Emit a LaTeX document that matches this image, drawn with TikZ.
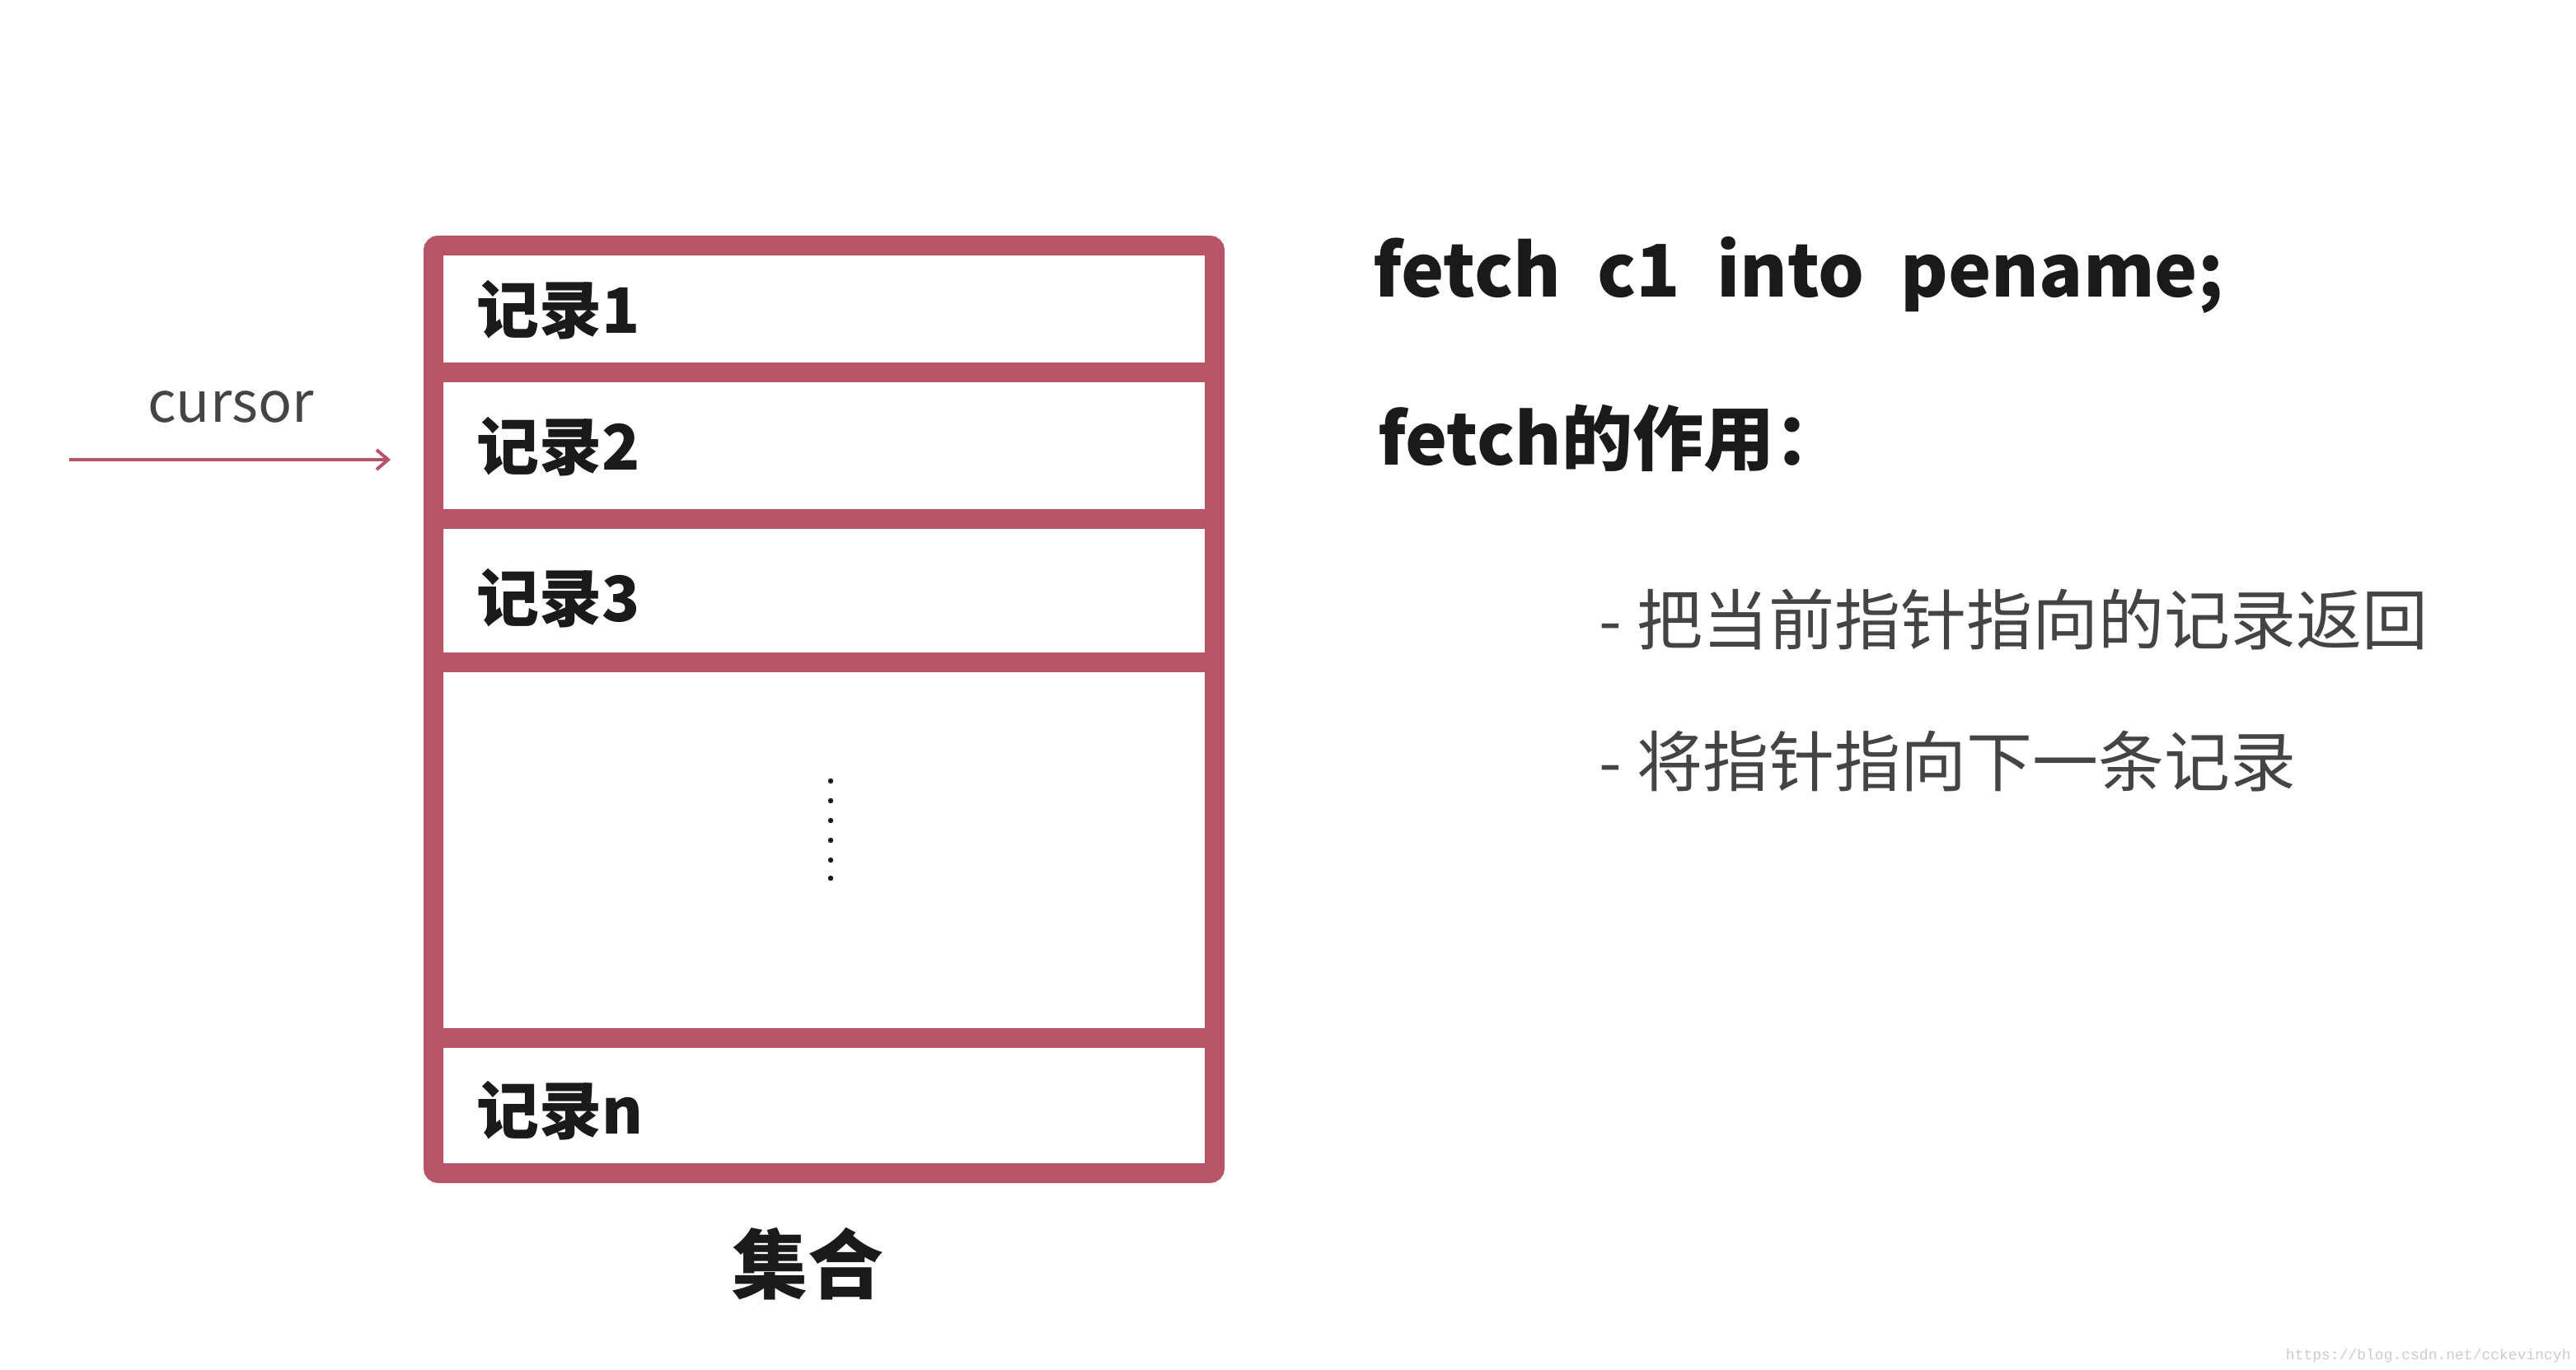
\documentclass[tikz,border=0pt]{standalone}
\usepackage{fontspec}
\usetikzlibrary{arrows.meta}
\setmainfont{Noto Sans CJK SC}
\newfontfamily\wmfont{Liberation Mono}
\definecolor{boxred}{HTML}{B85468}
\definecolor{txt}{HTML}{1A1A1A}
\definecolor{gtxt}{HTML}{444444}
\begin{document}
\begin{tikzpicture}[x=1pt,y=-1pt,
  rec/.style={anchor=west,text=txt,font=\bfseries\fontsize{38}{42}\selectfont,inner sep=0pt},
  rt/.style={anchor=west,inner sep=0pt}]
\useasboundingbox (0,0) rectangle (1563,831);
\fill[white] (0,0) rectangle (1563,831);
\draw[boxred,line width=12pt,rounded corners=3pt] (263,149) rectangle (737,712);
\foreach \y in {226,315,402,630} \draw[boxred,line width=12pt] (263,\y) -- (737,\y);
\node[rec] (r1) at (289,188) {记录1};
\node[rec] (r2) at (289,271) {记录2};
\node[rec] (r3) at (289,363) {记录3};
\node[rec] (rn) at (289,674) {记录n};
\foreach \y in {474,486,498,510,522,533} \fill[txt] (504,\y) circle (1.6pt);
\node[text=gtxt,font=\fontsize{34}{38}\selectfont] (cur) at (140,247) {cursor};
\coordinate (cs) at (42,279);
\coordinate (ce) at (237,279);
\draw[boxred,line width=2pt,-{Straight Barb[length=7pt,width=12pt]}] (cs) -- (ce);
\node[text=txt,font=\bfseries\fontsize{46}{50}\selectfont] (set) at (490,767) {集合};
\node[rt,text=txt,font=\bfseries\fontsize{44}{48}\selectfont] (f1) at (833,167) {fetch\hspace{22pt}c1\hspace{22pt}into\hspace{22pt}pename;};
\node[rt,text=txt,font=\bfseries\fontsize{43}{47}\selectfont] (f2) at (836,266) {fetch的作用：};
\node[rt,text=gtxt,font=\fontsize{40}{44}\selectfont] (b1) at (970,376) {- 把当前指针指向的记录返回};
\node[rt,text=gtxt,font=\fontsize{40}{44}\selectfont] (b2) at (970,462) {- 将指针指向下一条记录};
\node[anchor=east,text=black!20,font=\wmfont\fontsize{9}{10}\selectfont,inner sep=0pt] (wm) at (1560,823) {https://blog.csdn.net/cckevincyh};
\end{tikzpicture}
\end{document}
